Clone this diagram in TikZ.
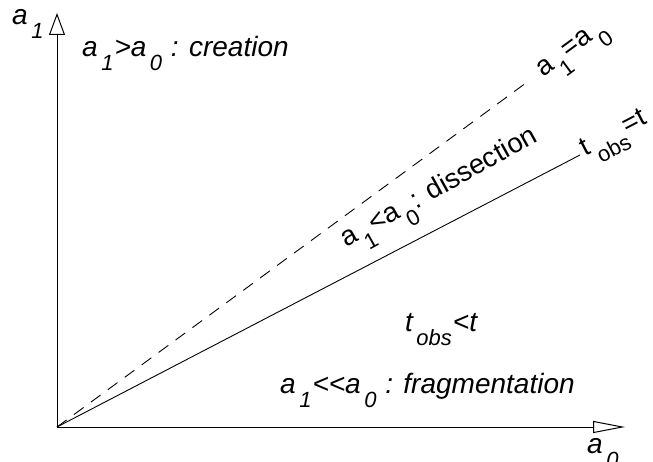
\documentclass[tikz,border=0pt]{standalone}
\usepackage{fontspec}
\setmainfont{Liberation Sans}
\usetikzlibrary{arrows.meta}
\newcommand{\lsub}[1]{\kern3.5pt\raisebox{-0.5em}{\fontsize{22}{22}\selectfont #1}\kern1pt\relax}
\begin{document}
\begin{tikzpicture}[x=1pt,y=1pt,
  lbl/.style={font=\fontsize{28}{30}\selectfont\itshape, inner sep=0pt},
  rlbl/.style={font=\fontsize{27.5}{30}\selectfont, inner sep=0pt},
  axis/.style={line width=1pt},
  ray/.style={line width=0.9pt}]
\useasboundingbox (0,0) rectangle (653,-462);
\coordinate (O) at (57,-427);
\coordinate (Y) at (57,-13);
\coordinate (X) at (625,-427);
\coordinate (D) at (530,-80);
\coordinate (S) at (580,-155);
\draw[axis,-{Triangle[open,length=22pt,width=16pt]}] (O) -- (Y);
\draw[axis,-{Triangle[open,length=32pt,width=12pt]}] (O) -- (X);
\draw[ray,dash pattern=on 12pt off 9pt] (O) -- (D);
\draw[ray] (O) -- (S);
\node[lbl,anchor=base west] (ya) at (12,-25) {a\lsub{1}};
\node[lbl,anchor=base west] (xa) at (587,-453) {a\lsub{0}};
\node[lbl,anchor=base west] (cr) at (82,-57) {a\lsub{1}>a\lsub{0} : creation};
\node[lbl,anchor=base west] (fr) at (280,-393) {a\lsub{1}<{}<a\lsub{0} : fragmentation};
\node[lbl,anchor=base west] (to) at (405,-331) {t\lsub{obs}<t};
\node[rlbl,anchor=base west,rotate=29] (di) at (346,-248) {a\lsub{1}<a\lsub{0}: dissection};
\node[rlbl,anchor=mid west,rotate=36.3,xshift=12pt,yshift=-3pt] (eq) at (D) {a\lsub{1}=a\lsub{0}};
\node[rlbl,anchor=mid west,rotate=27.5,xshift=4pt,yshift=-1pt] (te) at (S) {t\lsub{obs}=t};
\end{tikzpicture}
\end{document}
